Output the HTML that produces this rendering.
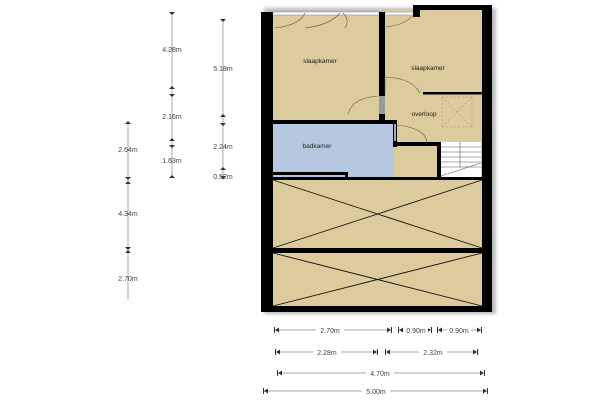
<!DOCTYPE html>
<html><head><style>body{margin:0;background:#fff}svg{display:block}</style></head><body>
<svg width="600" height="400" viewBox="0 0 600 400" xmlns="http://www.w3.org/2000/svg" font-family="Liberation Sans, sans-serif">
<defs>
<filter id="sh"><feGaussianBlur stdDeviation="1.5"/></filter>
</defs>
<rect x="264" y="8" width="232" height="306" fill="#bbb" filter="url(#sh)"/>
<rect x="261" y="12" width="231" height="300" fill="#000"/>
<rect x="413" y="5" width="79" height="10" fill="#000"/>
<rect x="273" y="13" width="106" height="107" fill="#dccb9c"/>
<rect x="385" y="17" width="97" height="160" fill="#dccb9c"/>
<rect x="385" y="10" width="28" height="8" fill="#dccb9c"/>
<rect x="420" y="10" width="62" height="8" fill="#dccb9c"/>
<rect x="273" y="120" width="112" height="60" fill="#dccb9c"/>
<rect x="273" y="180" width="209" height="68" fill="#dccb9c"/>
<rect x="273" y="253" width="209" height="53" fill="#dccb9c"/>
<rect x="273" y="12" width="106" height="3" fill="#fff" stroke="#888" stroke-width="0.5"/>
<rect x="385" y="12" width="28" height="3" fill="#fff" stroke="#888" stroke-width="0.5"/>
<rect x="379" y="12" width="6" height="108" fill="#000"/>
<rect x="379" y="96" width="6" height="18" fill="#999"/>
<rect x="423" y="92" width="59" height="2.5" fill="#000"/>
<rect x="273" y="120" width="124" height="4" fill="#000"/>
<rect x="273" y="124" width="120" height="56" fill="#b5c8df"/>
<rect x="393" y="120" width="4" height="27" fill="#000"/>
<rect x="394" y="124" width="2" height="17" fill="#aaa"/>
<rect x="395" y="142" width="46" height="4" fill="#000"/>
<rect x="437" y="142" width="4" height="37" fill="#000"/>
<rect x="441" y="142" width="40" height="35" fill="#fff"/>
<g stroke="#555" stroke-width="0.6">
<line x1="441" y1="147" x2="481" y2="147"/><line x1="441" y1="152" x2="481" y2="152"/><line x1="441" y1="157" x2="481" y2="157"/><line x1="441" y1="162" x2="481" y2="162"/><line x1="441" y1="167" x2="481" y2="167"/><line x1="460" y1="142" x2="460" y2="167"/><line x1="441" y1="176" x2="481" y2="163"/>
</g>
<rect x="273" y="172" width="74" height="3" fill="#000"/>
<rect x="345" y="172" width="3" height="8" fill="#000"/>
<rect x="273" y="177" width="209" height="3" fill="#000"/>
<rect x="273" y="248" width="209" height="5" fill="#000"/>
<g fill="none" stroke="#555" stroke-width="0.6">
<path d="M275 28 Q300 25 305 13"/><path d="M305 28 Q330 25 340 13"/><path d="M345 28 Q350 20 343 13"/><path d="M385 27 Q405 25 412 16"/>
<path d="M348 114 Q352 98 378 96"/><path d="M385 77 L385 93 M385 77 Q412 78 420 93"/>
<path d="M397 125 Q425 128 427 142"/>
</g>
<g stroke="#999" stroke-width="0.6" stroke-dasharray="2,2" fill="none"><rect x="442" y="97" width="30" height="30"/><line x1="442" y1="97" x2="472" y2="127"/><line x1="472" y1="97" x2="442" y2="127"/></g>
<g stroke="#111" stroke-width="0.9">
<line x1="273" y1="180" x2="482" y2="248"/><line x1="482" y1="180" x2="273" y2="248"/>
<line x1="273" y1="253" x2="482" y2="306"/><line x1="482" y1="253" x2="273" y2="306"/>
</g>
<g font-size="6.5" fill="#222" text-anchor="middle">
<text x="320" y="63">slaapkamer</text>
<text x="428" y="70">slaapkamer</text>
<text x="424" y="116">overloop</text>
<text x="317" y="148">badkamer</text>
</g>
<g stroke="#aaa" stroke-width="1">
<line x1="172" y1="12" x2="172" y2="178"/>
<line x1="223" y1="19" x2="223" y2="180"/>
<line x1="128" y1="122" x2="128" y2="300"/>
<line x1="273" y1="330" x2="392" y2="330"/><line x1="398" y1="330" x2="432" y2="330"/><line x1="437" y1="330" x2="482" y2="330"/>
<line x1="275" y1="352" x2="378" y2="352"/><line x1="385" y1="352" x2="478" y2="352"/>
<line x1="277" y1="373" x2="485" y2="373"/>
<line x1="263" y1="391" x2="488" y2="391"/>
</g>
<g fill="#333">
<path d="M169 12h6l-3 3z M169 89h6l-3-3z M169 94h6l-3 3z M169 141h6l-3-3z M169 145h6l-3 3z M169 178h6l-3-3z"/>
<path d="M220 19h6l-3 3z M220 117h6l-3-3z M220 123h6l-3 3z M220 170h6l-3-3z M220 176h6l-3 3z"/>
<path d="M125 124h6l-3-3z M125 177h6l-3 3z M125 184h6l-3-3z M125 247h6l-3 3z M125 253h6l-3-3z"/>
</g>
<g fill="#333">
<!-- horizontal arrowheads: |< and >| -->
<path d="M274 327v6h1v-6z M275 330l4-2.5v5z M391 327v6h1v-6z M391 330l-4-2.5v5z"/>
<path d="M398 327v6h1v-6z M399 330l4-2.5v5z M431 327v6h1v-6z M431 330l-4-2.5v5z"/>
<path d="M437 327v6h1v-6z M438 330l4-2.5v5z M481 327v6h1v-6z M481 330l-4-2.5v5z"/>
<path d="M275 349v6h1v-6z M276 352l4-2.5v5z M377 349v6h1v-6z M377 352l-4-2.5v5z"/>
<path d="M385 349v6h1v-6z M386 352l4-2.5v5z M477 349v6h1v-6z M477 352l-4-2.5v5z"/>
<path d="M277 370v6h1v-6z M278 373l4-2.5v5z M484 370v6h1v-6z M484 373l-4-2.5v5z"/>
<path d="M263 388v6h1v-6z M264 391l4-2.5v5z M487 388v6h1v-6z M487 391l-4-2.5v5z"/>
</g>
<g font-size="7" fill="#444" text-anchor="middle">
<text x="172" y="52">4.28m</text>
<text x="172" y="119">2.16m</text>
<text x="172" y="163">1.63m</text>
<text x="223" y="71">5.18m</text>
<text x="223" y="149">2.24m</text>
<text x="223" y="179">0.52m</text>
<text x="128" y="152">2.64m</text>
<text x="128" y="216">4.34m</text>
<text x="128" y="281">2.70m</text>
<rect x="316" y="325" width="28" height="9" fill="#fff"/><text x="330" y="333">2.70m</text>
<rect x="404" y="325" width="24" height="9" fill="#fff"/><text x="416" y="333">0.90m</text>
<rect x="447" y="325" width="24" height="9" fill="#fff"/><text x="459" y="333">0.90m</text>
<rect x="313" y="347" width="28" height="9" fill="#fff"/><text x="327" y="355">2.28m</text>
<rect x="419" y="347" width="28" height="9" fill="#fff"/><text x="433" y="355">2.32m</text>
<rect x="366" y="368" width="28" height="9" fill="#fff"/><text x="380" y="376">4.70m</text>
<rect x="362" y="386" width="28" height="9" fill="#fff"/><text x="376" y="394">5.00m</text>
</g>
</svg>
</body></html>
